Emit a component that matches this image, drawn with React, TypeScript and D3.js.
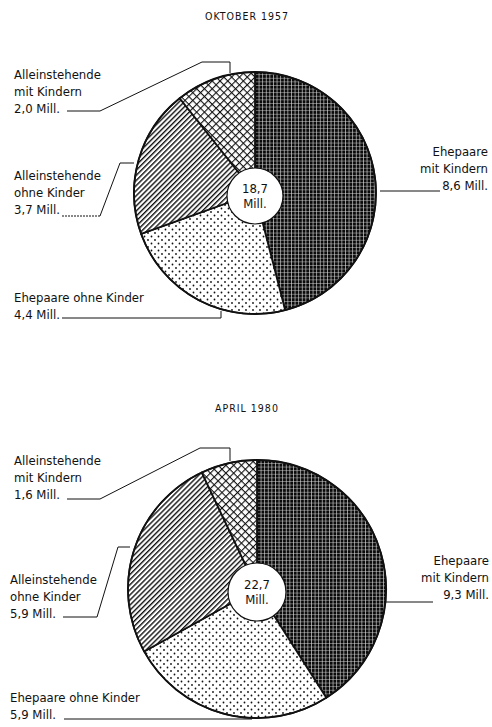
import React, { useEffect, useRef } from "react";
import * as d3 from "d3";

const categories = [
  "Ehepaare mit Kindern",
  "Ehepaare ohne Kinder",
  "Alleinstehende ohne Kinder",
  "Alleinstehende mit Kindern",
];
const labelLines = [
  ["Ehepaare", "mit Kindern"],
  ["Ehepaare ohne Kinder"],
  ["Alleinstehende", "ohne Kinder"],
  ["Alleinstehende", "mit Kindern"],
];
const values1957 = [8.6, 4.4, 3.7, 2.0];
const values1980 = [9.3, 5.9, 5.9, 1.6];
const titles = ["OKTOBER 1957", "APRIL 1980"];
const patternIds = ["grid", "dots", "hatch", "cross"];

// layout of the two pies and their label leaders (pixels)
const layouts = [
  {
    values: values1957, title: titles[0], titleY: 20,
    cx: 255, cy: 193, r: 121, hole: 28,
    labels: [
      { x: 488, y: 156, anchor: "end", pts: [[440, 191], [380, 191]], dash: null },
      { x: 14, y: 302, anchor: "start", pts: [[62, 318], [221, 318], [221, 311]], dash: null },
      { x: 14, y: 180, anchor: "start", pts: [[62, 216], [100, 216], [120, 163], [134, 163]], dash: "2,1" },
      { x: 14, y: 79, anchor: "start", pts: [[67, 111], [100, 111], [202, 62], [230, 62], [230, 73]], dash: null },
    ],
  },
  {
    values: values1980, title: titles[1], titleY: 412,
    cx: 257, cy: 589, r: 129, hole: 29,
    labels: [
      { x: 489, y: 565, anchor: "end", pts: [[433, 602], [386, 602]], dash: null },
      { x: 10, y: 702, anchor: "start", pts: [[64, 719], [252, 719]], dash: null },
      { x: 10, y: 584, anchor: "start", pts: [[63, 617], [97, 617], [118, 547], [130, 547]], dash: null },
      { x: 14, y: 465, anchor: "start", pts: [[67, 499], [100, 499], [200, 448], [230, 448], [230, 461]], dash: null },
    ],
  },
];

const fmt = (v: number) => v.toFixed(1).replace(".", ",");
const font = "'Liberation Sans Narrow', 'DejaVu Sans Condensed', 'Roboto', sans-serif";

const App: React.FC = () => {
  const svgRef = useRef<SVGSVGElement | null>(null);

  useEffect(() => {
    const svg = d3.select(svgRef.current);
    svg.selectAll("*").remove();

    const defs = svg.append("defs");
    // dark grid: black with fine white lines
    const grid = defs.append("pattern").attr("id", "grid").attr("patternUnits", "userSpaceOnUse")
      .attr("width", 3.6).attr("height", 3.6);
    grid.append("rect").attr("width", 3.6).attr("height", 3.6).attr("fill", "#0a0a0a");
    grid.append("rect").attr("x", 0).attr("y", 0).attr("width", 0.55).attr("height", 3.6).attr("fill", "#fff");
    grid.append("rect").attr("x", 0).attr("y", 0).attr("width", 3.6).attr("height", 0.45).attr("fill", "#ddd");

    const dots = defs.append("pattern").attr("id", "dots").attr("patternUnits", "userSpaceOnUse")
      .attr("width", 7).attr("height", 7);
    dots.append("rect").attr("width", 7).attr("height", 7).attr("fill", "#fff");
    dots.append("circle").attr("cx", 1.5).attr("cy", 1.5).attr("r", 0.9).attr("fill", "#111");
    dots.append("circle").attr("cx", 5).attr("cy", 5).attr("r", 0.9).attr("fill", "#111");

    const hatch = defs.append("pattern").attr("id", "hatch").attr("patternUnits", "userSpaceOnUse")
      .attr("width", 3.6).attr("height", 3.6).attr("patternTransform", "rotate(45)");
    hatch.append("rect").attr("width", 3.6).attr("height", 3.6).attr("fill", "#fff");
    hatch.append("rect").attr("width", 1.4).attr("height", 3.6).attr("fill", "#111");

    const cross = defs.append("pattern").attr("id", "cross").attr("patternUnits", "userSpaceOnUse")
      .attr("width", 5.5).attr("height", 5.5).attr("patternTransform", "rotate(45)");
    cross.append("rect").attr("width", 5.5).attr("height", 5.5).attr("fill", "#fff");
    cross.append("rect").attr("width", 1.1).attr("height", 5.5).attr("fill", "#111");
    cross.append("rect").attr("width", 5.5).attr("height", 1.1).attr("fill", "#111");

    const pie = d3.pie<number>().sort(null).value((d) => d);

    layouts.forEach((lay) => {
      const total = d3.sum(lay.values);
      svg.append("text")
        .attr("x", 247).attr("y", lay.titleY)
        .attr("text-anchor", "middle")
        .style("font-family", font).style("font-size", "10.5px").style("letter-spacing", "1px")
        .attr("fill", "#111")
        .text(lay.title);

      const g = svg.append("g").attr("transform", `translate(${lay.cx},${lay.cy})`);
      const arc = d3.arc<d3.PieArcDatum<number>>().innerRadius(0).outerRadius(lay.r);
      const arcs = pie(lay.values);

      g.selectAll("path.slice")
        .data(arcs)
        .join("path")
        .attr("class", "slice")
        .attr("d", arc)
        .attr("fill", (_, i) => `url(#${patternIds[i]})`)
        .attr("stroke", "#111")
        .attr("stroke-width", 1.8)
        .attr("stroke-linejoin", "round");

      g.append("circle").attr("r", lay.r).attr("fill", "none").attr("stroke", "#111").attr("stroke-width", 1.6);
      g.append("circle").attr("r", lay.hole).attr("cy", 3).attr("fill", "#fff").attr("stroke", "#111").attr("stroke-width", 1.2);
      g.append("text").attr("y", 0).attr("text-anchor", "middle")
        .style("font-family", font).style("font-size", "13px").attr("fill", "#111")
        .text(fmt(total));
      g.append("text").attr("y", 15).attr("text-anchor", "middle")
        .style("font-family", font).style("font-size", "13px").attr("fill", "#111")
        .text("Mill.");

      lay.labels.forEach((lb, i) => {
        const lines = [...labelLines[i], `${fmt(lay.values[i])} Mill.`];
        const t = svg.append("text")
          .attr("x", lb.x).attr("y", lb.y)
          .attr("text-anchor", lb.anchor)
          .style("font-family", font).style("font-size", "13px").attr("fill", "#111");
        t.append("title").text(categories[i]);
        lines.forEach((ln, k) => {
          t.append("tspan").attr("x", lb.x).attr("dy", k === 0 ? 0 : 17).text(ln);
        });
        const pts = lb.pts as [number, number][];
        if (lb.dash) {
          svg.append("path").attr("d", d3.line()(pts.slice(0, 2)))
            .attr("fill", "none").attr("stroke", "#111").attr("stroke-width", 1).attr("stroke-dasharray", lb.dash);
          svg.append("path").attr("d", d3.line()(pts.slice(1)))
            .attr("fill", "none").attr("stroke", "#111").attr("stroke-width", 1);
        } else {
          svg.append("path").attr("d", d3.line()(pts))
            .attr("fill", "none").attr("stroke", "#111").attr("stroke-width", 1);
        }
      });
    });
  }, []);

  return (
    <div>
      <svg ref={svgRef} width={492} height={727} style={{ display: "block", position: "absolute", left: 0, top: 0, background: "#fff" }}></svg>
    </div>
  );
};

export default App;
